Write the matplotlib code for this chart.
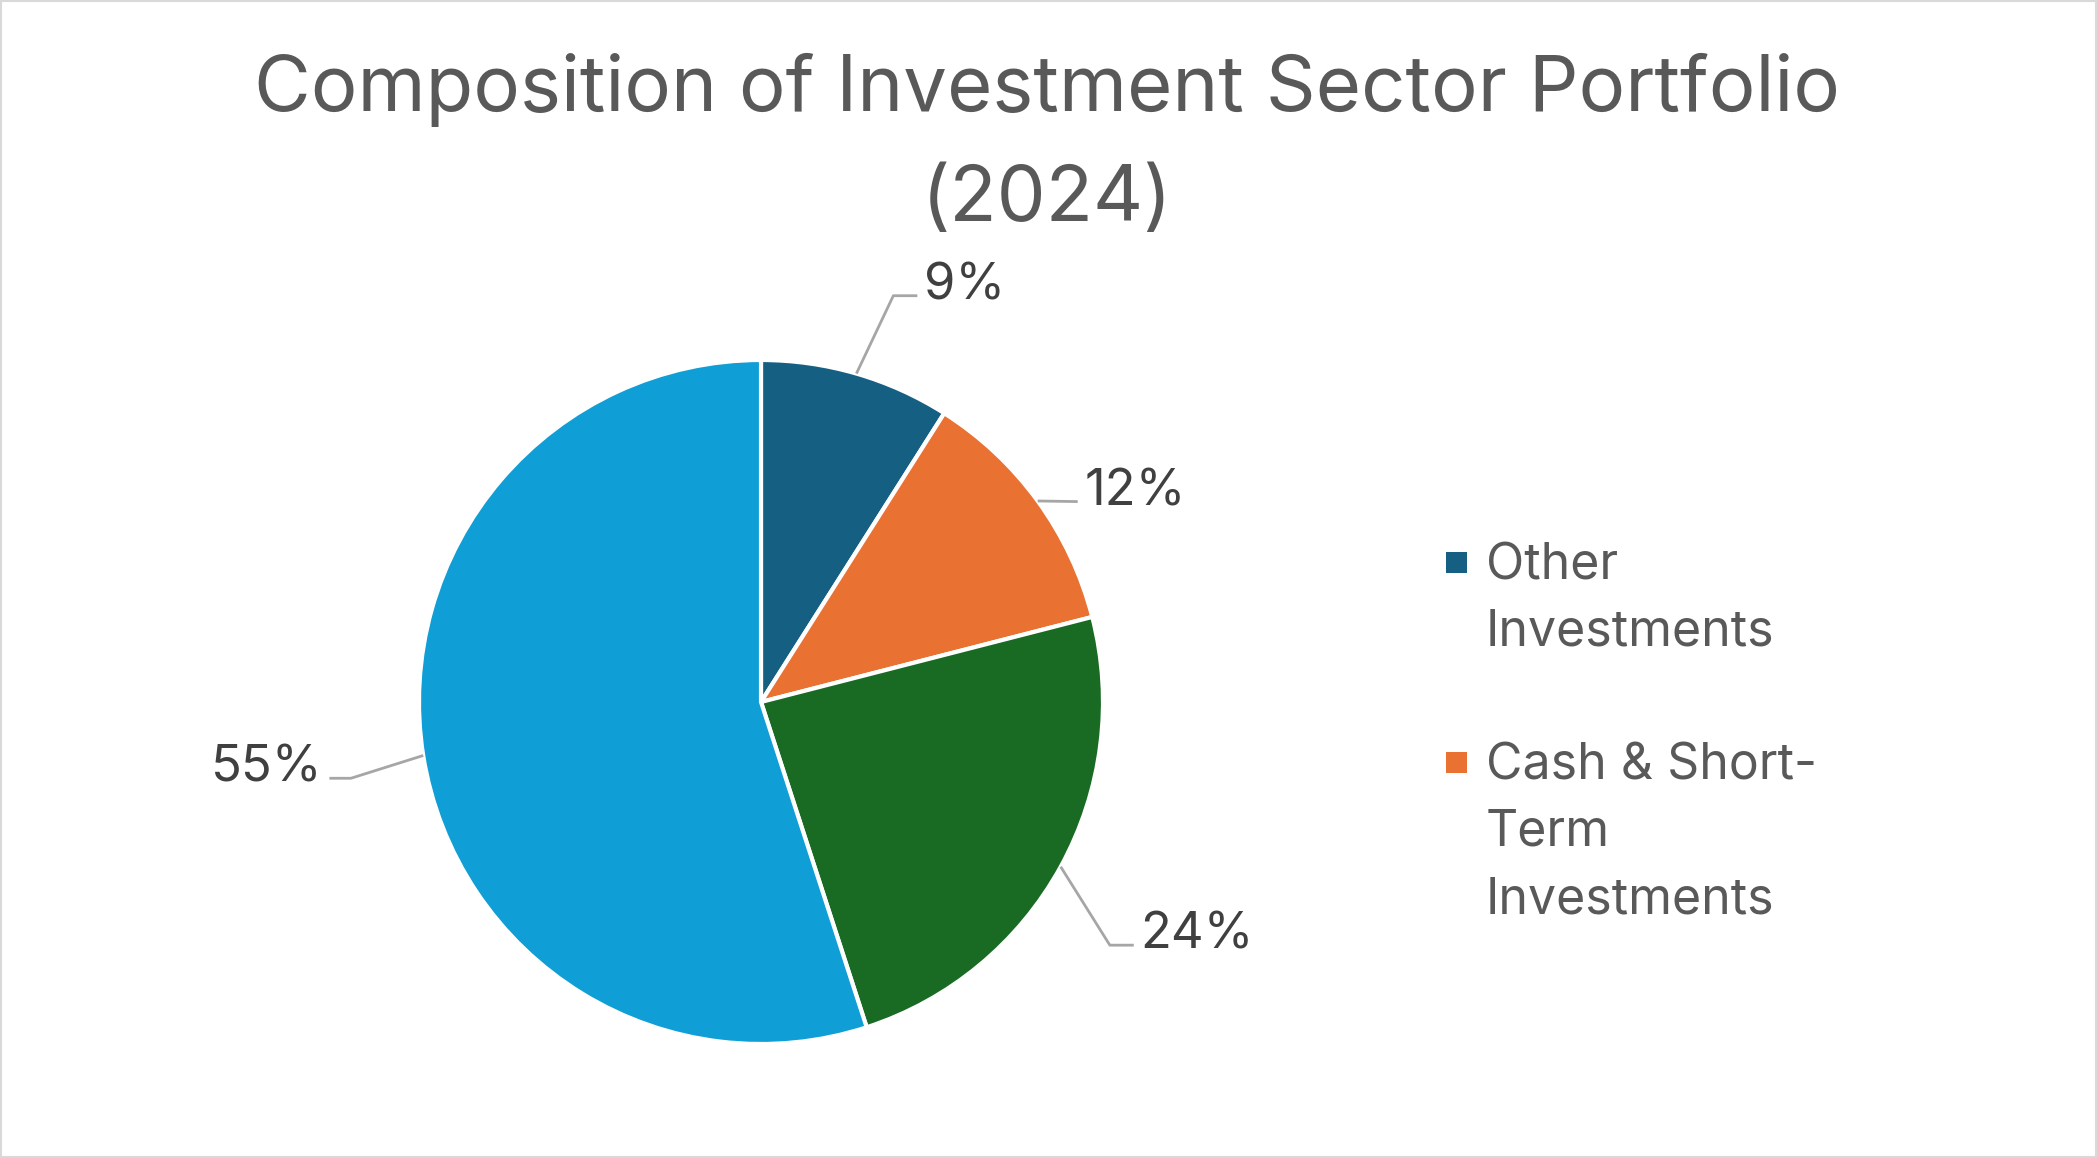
import matplotlib
matplotlib.use("Agg")
import matplotlib.pyplot as plt
from matplotlib.patches import Rectangle
import numpy as np

# ---------------- data ----------------
categories = ["Other Investments", "Cash & Short-Term Investments",
              "Category 3", "Category 4"]          # last two names not shown in the chart
values = [9, 12, 24, 55]                            # percent of portfolio
colors = ["#156082", "#E97132", "#196B24", "#0F9ED5"]
legend_lines = [["Other", "Investments"],
                ["Cash & Short-", "Term", "Investments"]]   # legend shows only first two entries
title = "Composition of Investment Sector Portfolio\n(2024)"

# ---------------- style / layout ----------------
FONT = ["Inter", "DejaVu Sans"]
plt.rcParams["font.family"] = FONT
W, H = 2097, 1158
cx, cy, R = 761, 702, 342          # pie centre / radius in pixels

# label leader layout in data units (radius = 1): elbow, end, text side
label_layout = [
    dict(elbow=(0.387, 1.188), end=(0.457, 1.188), ha="left"),
    dict(elbow=None,           end=(0.926, 0.586), ha="left"),
    dict(elbow=(1.020, -0.711), end=(1.090, -0.711), ha="left"),
    dict(elbow=(-1.199, -0.223), end=(-1.262, -0.223), ha="right"),
]

fig = plt.figure(figsize=(W / 100, H / 100), dpi=100)
fig.patch.set_facecolor("white")

ax = fig.add_axes([(cx - R) / W, (H - cy - R) / H, 2 * R / W, 2 * R / H])
wedges, _ = ax.pie(values, colors=colors, startangle=90, counterclock=False,
                   radius=1, wedgeprops=dict(edgecolor="white", linewidth=3))
ax.set_xlim(-1, 1)
ax.set_ylim(-1, 1)
ax.set_aspect("equal")
ax.axis("off")

total = float(sum(values))
for w, v, lay in zip(wedges, values, label_layout):
    mid = np.deg2rad((w.theta1 + w.theta2) / 2)
    start = (np.cos(mid), np.sin(mid))
    pts = [start] + ([lay["elbow"]] if lay["elbow"] else []) + [lay["end"]]
    xs, ys = zip(*pts)
    ax.plot(xs, ys, color="#A6A6A6", lw=2.0, clip_on=False, solid_capstyle="butt")
    gap = 0.02 if lay["ha"] == "left" else -0.02
    ax.text(lay["end"][0] + gap, lay["end"][1] - 0.01, f"{v / total * 100:.0f}%",
            ha=lay["ha"], va="baseline", fontsize=36.5, color="#404040", clip_on=False)

# title (anchored at the baseline of its last line)
fig.text(1047 / W, 1 - 221 / H, title, ha="center", va="baseline",
         multialignment="center", fontsize=56, color="#595959", linespacing=1.65)

# legend (only the two entries visible in the reference)
first_baselines = [579, 779]
step = 67
for k, (lines, base) in enumerate(zip(legend_lines, first_baselines)):
    sq = 21
    fig.patches.append(Rectangle((1446 / W, 1 - (base - 17 + sq / 2) / H), sq / W, sq / H,
                                 transform=fig.transFigure, facecolor=wedges[k].get_facecolor(),
                                 edgecolor="none"))
    for i, line in enumerate(lines):
        fig.text(1486 / W, 1 - (base + i * step) / H, line, ha="left", va="baseline",
                 fontsize=36, color="#595959")

# outer border
fig.patches.append(Rectangle((1 / W, 1 / H), 1 - 2 / W, 1 - 2 / H, transform=fig.transFigure,
                             fill=False, edgecolor="#D9D9D9", linewidth=1.5))

fig.savefig("out.png", dpi=100, facecolor="white")
